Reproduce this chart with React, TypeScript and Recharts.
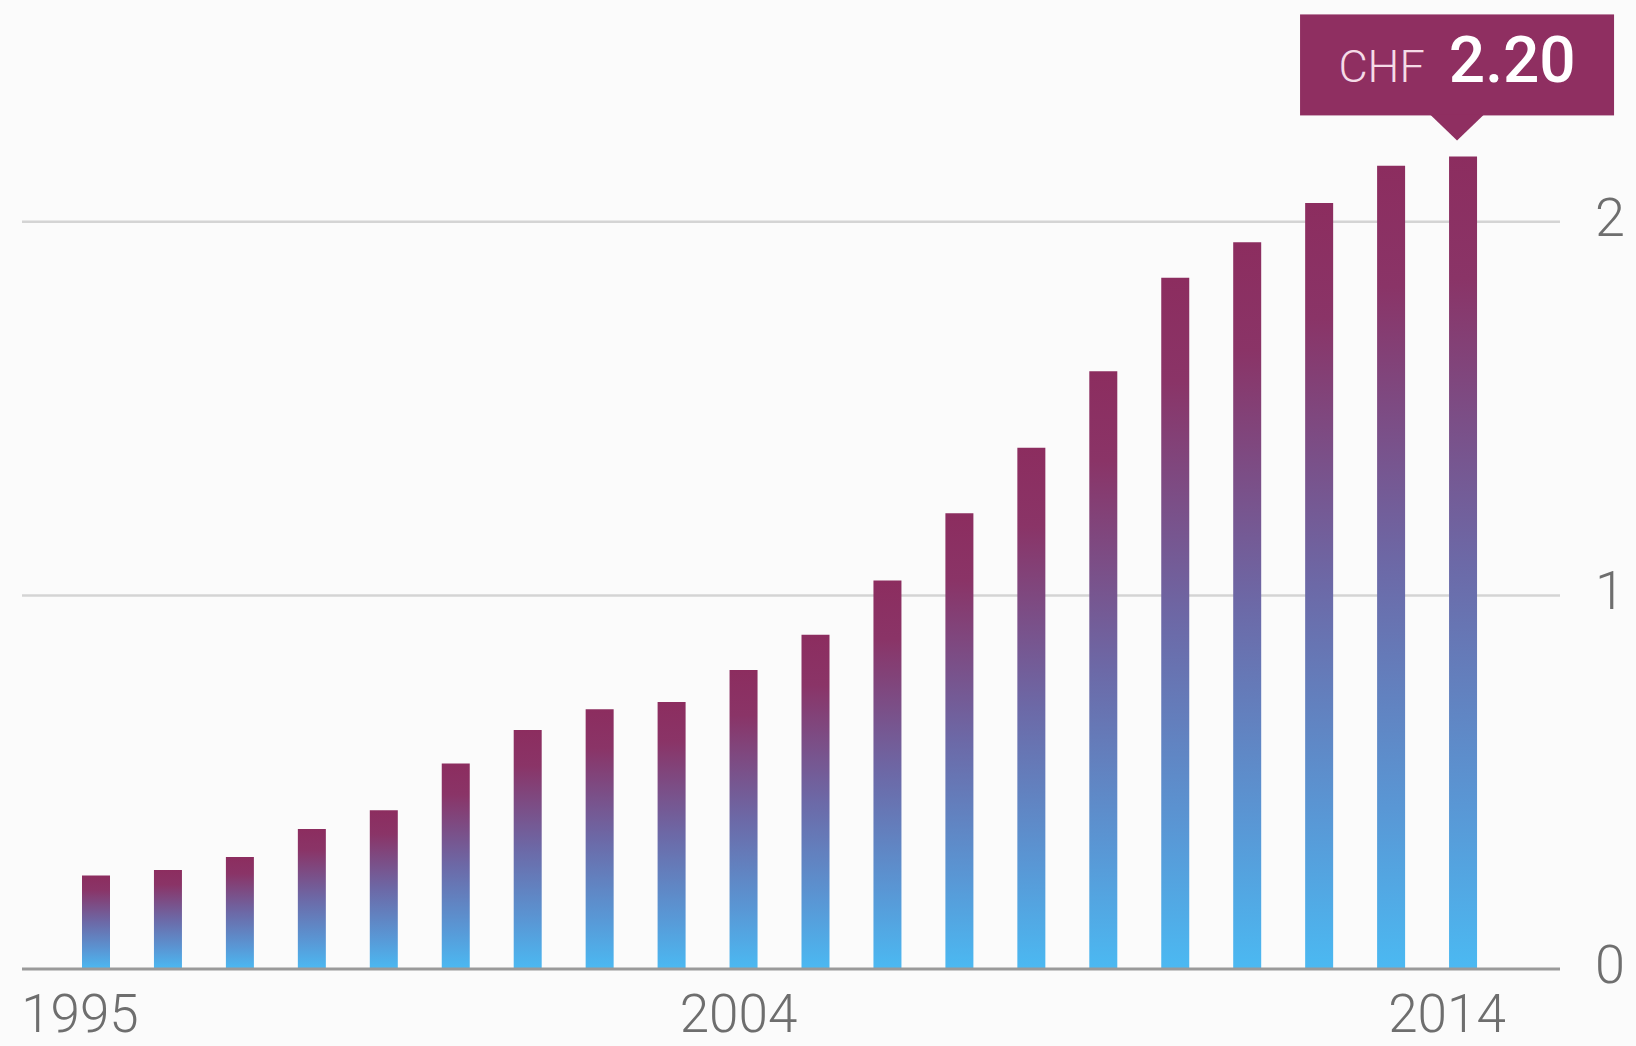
import { BarChart, Bar, XAxis, YAxis, CartesianGrid, LabelList } from 'recharts'

const years = [
  '1995', '1996', '1997', '1998', '1999', '2000', '2001', '2002', '2003', '2004',
  '2005', '2006', '2007', '2008', '2009', '2010', '2011', '2012', '2013', '2014',
]
const prices = [
  0.25, 0.265, 0.3, 0.375, 0.425, 0.55, 0.64, 0.695, 0.715, 0.8,
  0.895, 1.04, 1.22, 1.395, 1.6, 1.85, 1.945, 2.05, 2.15, 2.175,
]
const shownYears = ['1995', '2004', '2014']
const yTicks = [0, 1, 2]
const calloutCurrency = 'CHF'
const calloutValue = '2.20'

const data = years.map((year, i) => ({ year, price: prices[i] }))

const labelFont = 'Roboto, "Noto Sans", sans-serif'
const xLabelShift: Record<string, number> = { '1995': -16, '2004': -5, '2014': -16 }

function XTick({ x, y, payload }: any) {
  if (!shownYears.includes(payload.value)) return null
  return (
    <text
      x={x + (xLabelShift[payload.value] ?? 0)}
      y={y + 55}
      textAnchor="middle"
      fontSize={53}
      fontWeight={300}
      fontFamily={labelFont}
      fill="#6e6e6e"
    >
      {payload.value}
    </text>
  )
}

function YTick({ x, y, payload }: any) {
  return (
    <text
      x={x + 42}
      y={y + 14}
      textAnchor="middle"
      fontSize={54}
      fontWeight={300}
      fontFamily={labelFont}
      fill="#6e6e6e"
    >
      {payload.value}
    </text>
  )
}

function Callout({ x, y, width, index }: any) {
  if (index !== data.length - 1) return null
  const cx = x + width / 2 - 6
  const top = y - 142
  const bottom = y - 41
  const tip = y - 16
  return (
    <g>
      <rect x={cx - 157} y={top} width={314} height={bottom - top} fill="#8f2f61" />
      <path d={`M${cx - 27},${bottom - 1} L${cx + 27},${bottom - 1} L${cx},${tip} Z`} fill="#8f2f61" />
      <text x={cx} y={y - 74} textAnchor="middle" fontFamily={labelFont}>
        <tspan fontSize={45} fontWeight={300} fill="#f5dbe7">{calloutCurrency}</tspan>
        <tspan fontSize={64} fontWeight={500} fill="#ffffff" dx={24}>{calloutValue}</tspan>
      </text>
    </g>
  )
}

export default function App() {
  return (
    <div style={{ width: 1636, height: 1046, background: '#fbfbfb' }}>
      <style>{'body{margin:0;background:#fbfbfb}'}</style>
      <BarChart
        width={1636}
        height={1046}
        data={data}
        margin={{ top: 35, right: 0, left: 22, bottom: 0 }}
      >
        <defs>
          <linearGradient id="barFade" x1="0" y1="0" x2="0" y2="1">
            <stop offset="0%" stopColor="#8c2d5f" />
            <stop offset="15%" stopColor="#8a3467" />
            <stop offset="50%" stopColor="#6c69a7" />
            <stop offset="80%" stopColor="#5997d5" />
            <stop offset="100%" stopColor="#4bb9f2" />
          </linearGradient>
        </defs>
        <CartesianGrid vertical={false} horizontalValues={[1, 2]} stroke="#d4d4d4" strokeWidth={2.5} />
        <XAxis
          dataKey="year"
          interval={0}
          padding={{ left: 38, right: 61 }}
          height={77}
          tickLine={false}
          axisLine={{ stroke: '#9a9a9a', strokeWidth: 3 }}
          tick={<XTick />}
        />
        <YAxis
          orientation="right"
          domain={[0, 2.5]}
          ticks={yTicks}
          width={76}
          axisLine={false}
          tickLine={false}
          tick={<YTick />}
        />
        <Bar dataKey="price" fill="url(#barFade)" barSize={28} isAnimationActive={false}>
          <LabelList dataKey="price" content={<Callout />} />
        </Bar>
      </BarChart>
    </div>
  )
}
